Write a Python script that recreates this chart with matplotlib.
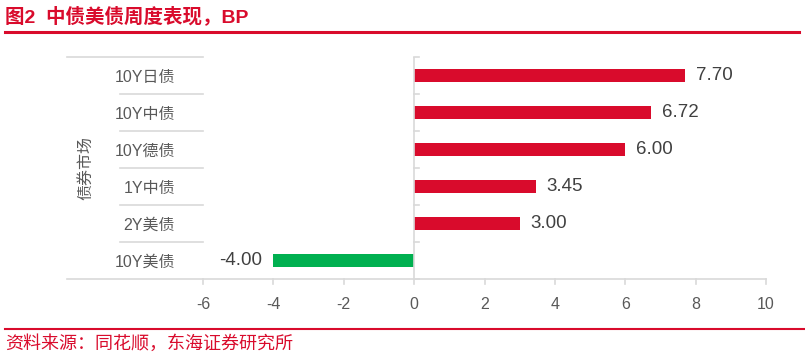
import matplotlib
matplotlib.use("Agg")
import matplotlib.pyplot as plt
import matplotlib.transforms as mtransforms
from matplotlib.lines import Line2D

plt.rcParams['font.family'] = ['Liberation Sans', 'Noto Sans CJK SC', 'DejaVu Sans']

categories = ["10Y日债", "10Y中债", "10Y德债", "1Y中债", "2Y美债", "10Y美债"]
values = [7.70, 6.72, 6.00, 3.45, 3.00, -4.00]
xticks = [-6, -4, -2, 0, 2, 4, 6, 8, 10]
group_label = "债券市场"
title = "图2  中债美债周度表现，BP"
source = "资料来源：同花顺，东海证券研究所"

RED = "#D90B2C"
GREEN = "#00B050"
GRAY_LINE = "#D9D9D9"
TEXT = "#595959"

W, H = 805, 357
fig = plt.figure(figsize=(W / 100, H / 100), dpi=100)

left, right, top, bottom = 203, 766, 57, 279
ax = fig.add_axes([left / W, 1 - bottom / H, (right - left) / W, (bottom - top) / H])

n = len(categories)
ypos = list(range(n))[::-1]  # first category at top
colors = [RED if v >= 0 else GREEN for v in values]
ax.barh(ypos, values, height=0.35, color=colors, zorder=3)

ax.set_xlim(xticks[0], xticks[-1])
ax.set_ylim(-0.5, n - 0.5)

for s in ax.spines.values():
    s.set_visible(False)

ax.set_xticks(xticks)
ax.set_xticklabels([f"{t:g}" for t in xticks])
ax.tick_params(axis='x', length=0, pad=13, labelsize=11.5, labelcolor=TEXT)
ax.set_yticks(ypos)
ax.set_yticklabels(categories)
ax.tick_params(axis='y', length=0, pad=20, labelsize=11.5, labelcolor=TEXT)

# value labels
for y, v in zip(ypos, values):
    if v >= 0:
        ax.annotate(f"{v:.2f}", (v, y), xytext=(8, 0), textcoords='offset points',
                    ha='left', va='center', fontsize=13.5, color="#404040")
    else:
        ax.annotate(f"{v:.2f}", (v, y), xytext=(-8, 0), textcoords='offset points',
                    ha='right', va='center', fontsize=13.5, color="#404040")

# axis lines
bt = mtransforms.blended_transform_factory(ax.transAxes, ax.transData)
x_table_left = (67 - left) / (right - left)
x_cat_left = (120 - left) / (right - left)
ax.plot([x_table_left, 1], [-0.5, -0.5], transform=bt, color=GRAY_LINE, lw=1.2, clip_on=False, zorder=4)
ax.plot([x_table_left, 0], [n - 0.5, n - 0.5], transform=bt, color=GRAY_LINE, lw=1.2, clip_on=False, zorder=4)
for k in range(1, n):
    ax.plot([x_cat_left, 0], [k - 0.5, k - 0.5], transform=bt, color=GRAY_LINE, lw=1.2, clip_on=False, zorder=4)

# zero vertical line with boundary ticks
ax.axvline(0, color=GRAY_LINE, lw=1.2, zorder=4)
tick_len = 5 / (right - left) * (xticks[-1] - xticks[0])
for k in range(0, n + 1):
    ax.plot([0, tick_len], [k - 0.5, k - 0.5], color=GRAY_LINE, lw=1.2, clip_on=False, zorder=4)

# x ticks downward
bt2 = mtransforms.blended_transform_factory(ax.transData, ax.transAxes)
tlen = 5 / (bottom - top)
for t in xticks:
    ax.plot([t, t], [0, -tlen], transform=bt2, color=GRAY_LINE, lw=1.2, clip_on=False, zorder=4)

# group label
fig.text(87 / W, 1 - 168 / H, group_label, rotation=90, ha='center', va='center',
         fontsize=11.5, color=TEXT)

# title and source
fig.text(5 / W, 1 - 16 / H, title, ha='left', va='center', fontsize=14,
         fontweight='bold', color=RED)
fig.add_artist(Line2D([5 / W, 799 / W], [1 - 32 / H, 1 - 32 / H], color=RED, lw=2.2))
fig.add_artist(Line2D([5 / W, 1], [1 - 329 / H, 1 - 329 / H], color=RED, lw=1.5))
fig.text(5 / W, 1 - 344 / H, source, ha='left', va='center', fontsize=13, color=RED)

fig.savefig("out.png", dpi=100)
